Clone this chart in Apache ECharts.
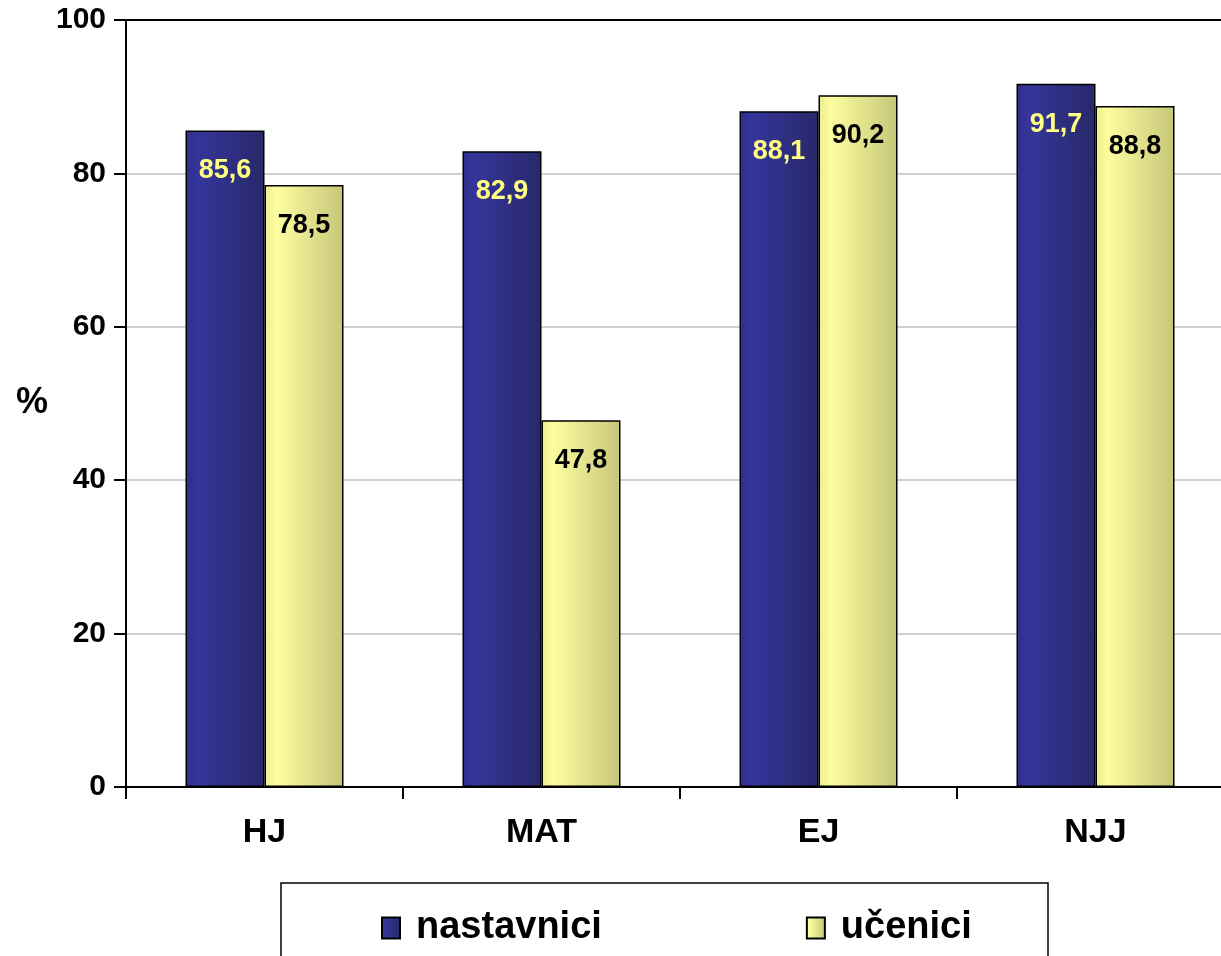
<!DOCTYPE html>
<html>
<head>
<meta charset="utf-8">
<script src="https://cdn.jsdelivr.net/npm/echarts@6/dist/echarts.min.js"></script>
<style>html,body{margin:0;padding:0;background:#fff}#c{width:1221px;height:956px}</style>
</head>
<body>
<div id="c"></div>
<script>
const categories = ['HJ', 'MAT', 'EJ', 'NJJ'];
const nastavnici = [85.6, 82.9, 88.1, 91.7];
const ucenici = [78.5, 47.8, 90.2, 88.8];
const seriesNames = ['nastavnici', 'učenici'];
const yTicks = [0, 20, 40, 60, 80, 100];

const chart = echarts.init(document.getElementById('c'), null, {renderer: 'canvas'});
const fmt = p => String(p.value).replace('.', ',');
const sans = "'Liberation Sans',Arial,sans-serif";
const blueGrad = new echarts.graphic.LinearGradient(0, 0, 1, 0, [
  {offset: 0, color: '#2f2f8c'}, {offset: 0.15, color: '#35359b'}, {offset: 1, color: '#28286a'}
]);
const yellowGrad = new echarts.graphic.LinearGradient(0, 0, 1, 0, [
  {offset: 0, color: '#ecec90'}, {offset: 0.15, color: '#fdfda0'}, {offset: 1, color: '#c6c67a'}
]);
chart.setOption({
  animation: false,
  grid: {left: 126, right: -13, top: 20, bottom: 169, outerBoundsMode: 'none', containLabel: false,
    show: true, borderColor: '#000', borderWidth: 2, backgroundColor: 'transparent'},
  graphic: [{type: 'rect', shape: {x: 281, y: 883, width: 767, height: 120}, style: {fill: '#fff', stroke: '#000', lineWidth: 1.5}, z: -1}],
  legend: {
    left: 376, top: 904, itemWidth: 18, itemHeight: 21, itemGap: 204,
    icon: 'rect',
    textStyle: {fontFamily: sans, fontWeight: 'bold', fontSize: 38, color: '#000', padding: [0, 0, 0, 11]},
    data: seriesNames
  },
  xAxis: {
    type: 'category', data: categories,
    axisLine: {lineStyle: {color: '#000', width: 2}},
    axisTick: {show: true, length: 12, lineStyle: {color: '#000', width: 2}},
    axisLabel: {fontFamily: sans, fontWeight: 'bold', fontSize: 34, color: '#000', margin: 29}
  },
  yAxis: {
    type: 'value', min: 0, max: 100, interval: 20,
    name: '%', nameLocation: 'middle', nameRotate: 0, nameGap: 78,
    nameTextStyle: {fontFamily: sans, fontWeight: 'bold', fontSize: 36, color: '#000'},
    axisLine: {show: true, lineStyle: {color: '#000', width: 2}},
    axisTick: {show: true, length: 12, lineStyle: {color: '#000', width: 2}},
    axisLabel: {fontFamily: sans, fontWeight: 'bold', fontSize: 30, color: '#000', margin: 20,
      formatter: v => yTicks.includes(v) ? String(v) : ''},
    splitLine: {lineStyle: {color: ['#c0c0c0', '#c0c0c0', '#c0c0c0', '#c0c0c0', '#c0c0c0', '#000'], width: 1.5}}
  },
  series: [
    {name: seriesNames[0], type: 'bar', data: nastavnici, barWidth: 79, barGap: '0%',
     itemStyle: {color: blueGrad, borderColor: '#000', borderWidth: 1.5},
     label: {show: true, position: 'insideTop', distance: 27, formatter: fmt,
       fontFamily: sans, fontWeight: 'bold', fontSize: 27, color: '#ffff80'}},
    {name: seriesNames[1], type: 'bar', data: ucenici, barWidth: 79,
     itemStyle: {color: yellowGrad, borderColor: '#000', borderWidth: 1.5},
     label: {show: true, position: 'insideTop', distance: 27, formatter: fmt,
       fontFamily: sans, fontWeight: 'bold', fontSize: 27, color: '#000'}}
  ]
});
</script>
</body>
</html>
